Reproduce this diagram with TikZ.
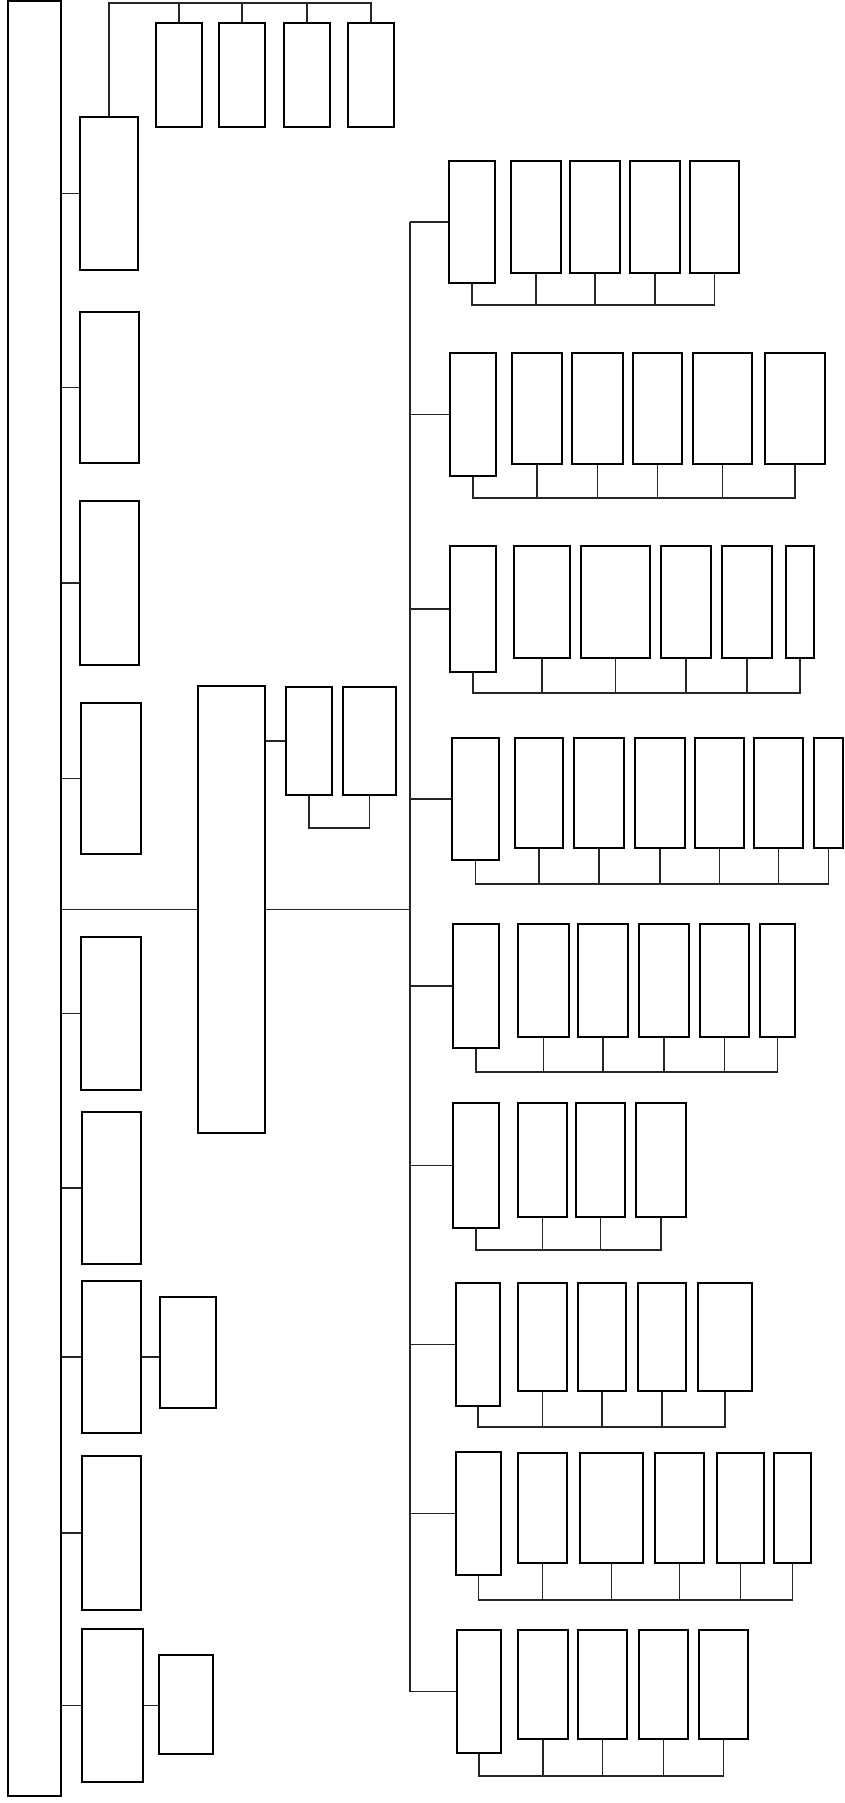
\documentclass[tikz,border=0pt]{standalone}
\usetikzlibrary{fit}

\tikzset{
  orgbox/.style={draw, line width=1.7pt, inner sep=0pt, fill=white},
  headbox/.style={orgbox, line width=2.4pt},
  wire/.style={line width=1.4pt, black!85},
}
\newcommand{\orgbox}[6][orgbox]{\node[#1, fit={(#3,#4) (#5,#6)}] (#2) {};}

\begin{document}
\begin{tikzpicture}[x=1pt, y=-1pt]
\useasboundingbox (0,0) rectangle (845,1803);

% title frame and units along it
\orgbox[headbox]{title}{8}{1}{61}{1796}
\orgbox[headbox]{l1}{80}{117}{138}{270}
\orgbox[headbox]{l2}{80}{312}{139}{463}
\orgbox[headbox]{l3}{80}{501}{139}{665}
\orgbox[headbox]{l4}{81}{703}{141}{854}
\orgbox[headbox]{l5}{81}{937}{141}{1090}
\orgbox[headbox]{l6}{82}{1112}{141}{1264}
\orgbox[headbox]{l7}{82}{1281}{141}{1433}
\orgbox[headbox]{l8}{82}{1456}{141}{1610}
\orgbox[headbox]{l9}{82}{1629}{143}{1782}
\orgbox{c7}{160}{1297}{216}{1408}
\orgbox{c9}{159}{1655}{213}{1754}
\foreach \i in {1,...,9}
  \draw[wire] (l\i.west) -- (l\i.west -| title.east);
\draw[wire] (l7.east) -- (l7.east -| c7.west);
\draw[wire] (l9.east) -- (l9.east -| c9.west);

% top row under l1
\coordinate (topbar) at (0,3);
\orgbox{t1}{156}{23}{202}{127}
\orgbox{t2}{219}{23}{265}{127}
\orgbox{t3}{284}{23}{330}{127}
\orgbox{t4}{348}{23}{394}{127}
\draw[wire] (l1.north) |- (topbar -| t4.north) -- (t4.north);
\foreach \c in {t1,t2,t3}
  \draw[wire] (\c.north) -- (\c.north |- topbar);

% main office
\orgbox[headbox]{main}{198}{686}{265}{1133}
\orgbox{m1}{286}{687}{332}{795}
\orgbox{m2}{343}{687}{396}{795}
\coordinate (mb) at (0,828);
\draw[wire] (main.west) -- (main.west -| title.east);
\draw[wire] (m1.west -| main.east) -- (m1.west);
\draw[wire] (m1.south) |- (mb -| m2.south) -- (m2.south);

% spine
\coordinate (sp) at (410,0);

% group 1
\orgbox[headbox]{g1h}{449}{161}{495}{283}
\orgbox{g1a}{511}{161}{561}{273}
\orgbox{g1b}{570}{161}{620}{273}
\orgbox{g1c}{630}{161}{680}{273}
\orgbox{g1d}{690}{161}{739}{273}
\coordinate (b1) at (0,305);
\draw[wire] (g1h.south) |- (b1 -| g1d.south) -- (g1d.south);
\foreach \c in {g1a,g1b,g1c}
  \draw[wire] (\c.south) -- (\c.south |- b1);

% group 2
\orgbox[headbox]{g2h}{450}{353}{496}{476}
\orgbox{g2a}{512}{353}{562}{464}
\orgbox{g2b}{572}{353}{623}{464}
\orgbox{g2c}{633}{353}{682}{464}
\orgbox{g2d}{693}{353}{752}{464}
\orgbox{g2e}{765}{353}{825}{464}
\coordinate (b2) at (0,498);
\draw[wire] (g2h.south) |- (b2 -| g2e.south) -- (g2e.south);
\foreach \c in {g2a,g2b,g2c,g2d}
  \draw[wire] (\c.south) -- (\c.south |- b2);

% group 3
\orgbox[headbox]{g3h}{450}{546}{496}{672}
\orgbox{g3a}{514}{546}{570}{658}
\orgbox{g3b}{581}{546}{650}{658}
\orgbox{g3c}{661}{546}{711}{658}
\orgbox{g3d}{722}{546}{772}{658}
\orgbox{g3e}{786}{546}{814}{658}
\coordinate (b3) at (0,693);
\draw[wire] (g3h.south) |- (b3 -| g3e.south) -- (g3e.south);
\foreach \c in {g3a,g3b,g3c,g3d}
  \draw[wire] (\c.south) -- (\c.south |- b3);

% group 4
\orgbox[headbox]{g4h}{452}{738}{499}{860}
\orgbox{g4a}{515}{738}{563}{848}
\orgbox{g4b}{574}{738}{624}{848}
\orgbox{g4c}{635}{738}{685}{848}
\orgbox{g4d}{695}{738}{744}{848}
\orgbox{g4e}{754}{738}{803}{848}
\orgbox{g4f}{814}{738}{843}{848}
\coordinate (b4) at (0,884);
\draw[wire] (g4h.south) |- (b4 -| g4f.south) -- (g4f.south);
\foreach \c in {g4a,g4b,g4c,g4d,g4e}
  \draw[wire] (\c.south) -- (\c.south |- b4);

% group 5
\orgbox[headbox]{g5h}{453}{924}{499}{1048}
\orgbox{g5a}{518}{924}{569}{1037}
\orgbox{g5b}{578}{924}{628}{1037}
\orgbox{g5c}{639}{924}{689}{1037}
\orgbox{g5d}{700}{924}{749}{1037}
\orgbox{g5e}{760}{924}{795}{1037}
\coordinate (b5) at (0,1072);
\draw[wire] (g5h.south) |- (b5 -| g5e.south) -- (g5e.south);
\foreach \c in {g5a,g5b,g5c,g5d}
  \draw[wire] (\c.south) -- (\c.south |- b5);

% group 6
\orgbox[headbox]{g6h}{453}{1103}{499}{1228}
\orgbox{g6a}{518}{1103}{567}{1217}
\orgbox{g6b}{576}{1103}{625}{1217}
\orgbox{g6c}{636}{1103}{686}{1217}
\coordinate (b6) at (0,1250);
\draw[wire] (g6h.south) |- (b6 -| g6c.south) -- (g6c.south);
\foreach \c in {g6a,g6b}
  \draw[wire] (\c.south) -- (\c.south |- b6);

% group 7
\orgbox[headbox]{g7h}{456}{1283}{500}{1406}
\orgbox{g7a}{518}{1283}{567}{1391}
\orgbox{g7b}{578}{1283}{626}{1391}
\orgbox{g7c}{638}{1283}{686}{1391}
\orgbox{g7d}{698}{1283}{752}{1391}
\coordinate (b7) at (0,1427);
\draw[wire] (g7h.south) |- (b7 -| g7d.south) -- (g7d.south);
\foreach \c in {g7a,g7b,g7c}
  \draw[wire] (\c.south) -- (\c.south |- b7);

% group 8
\orgbox[headbox]{g8h}{456}{1452}{501}{1575}
\orgbox{g8a}{518}{1453}{567}{1563}
\orgbox{g8b}{580}{1453}{643}{1563}
\orgbox{g8c}{655}{1453}{704}{1563}
\orgbox{g8d}{717}{1453}{764}{1563}
\orgbox{g8e}{774}{1453}{811}{1563}
\coordinate (b8) at (0,1600);
\draw[wire] (g8h.south) |- (b8 -| g8e.south) -- (g8e.south);
\foreach \c in {g8a,g8b,g8c,g8d}
  \draw[wire] (\c.south) -- (\c.south |- b8);

% group 9
\orgbox[headbox]{g9h}{457}{1630}{501}{1753}
\orgbox{g9a}{518}{1630}{568}{1739}
\orgbox{g9b}{578}{1630}{627}{1739}
\orgbox{g9c}{639}{1630}{688}{1739}
\orgbox{g9d}{699}{1630}{748}{1739}
\coordinate (b9) at (0,1776);
\draw[wire] (g9h.south) |- (b9 -| g9d.south) -- (g9d.south);
\foreach \c in {g9a,g9b,g9c}
  \draw[wire] (\c.south) -- (\c.south |- b9);

% spine to the groups
\draw[wire] (g1h.west -| sp) -- (g9h.west -| sp);
\foreach \i in {1,...,9}
  \draw[wire] (g\i h.west) -- (g\i h.west -| sp);
\draw[wire] (main.east) -- (main.east -| sp);
\end{tikzpicture}
\end{document}
